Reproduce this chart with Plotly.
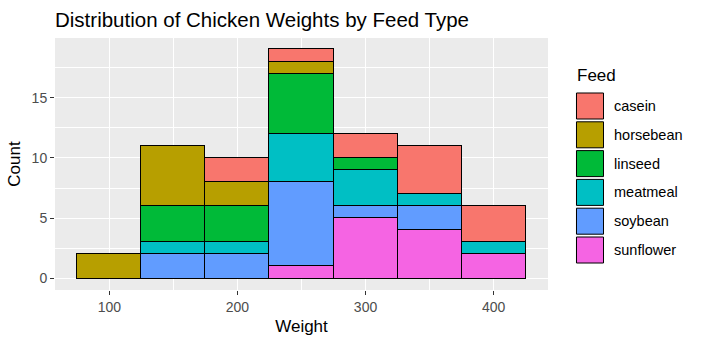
import plotly.graph_objects as go

# Data: chickwts histogram, binwidth 50, counts per bin (bin centers)
bin_centers = [100, 150, 200, 250, 300, 350, 400]
binwidth = 50
feeds = ["casein", "horsebean", "linseed", "meatmeal", "soybean", "sunflower"]
counts = {
    "casein":    [0, 0, 2, 1, 2, 4, 3],
    "horsebean": [2, 5, 2, 1, 0, 0, 0],
    "linseed":   [0, 3, 3, 5, 1, 0, 0],
    "meatmeal":  [0, 1, 1, 4, 3, 1, 1],
    "soybean":   [0, 2, 2, 7, 1, 2, 0],
    "sunflower": [0, 0, 0, 1, 5, 4, 2],
}
colors = ["#F8766D", "#B79F00", "#00BA38", "#00BFC4", "#619CFF", "#F564E3"]
x_ticks = [100, 200, 300, 400]
y_ticks = [0, 5, 10, 15]

FONT = "Arial, Liberation Sans, sans-serif"
W, H = 701, 345
ML, MR, MT, MB = 55, 153, 38, 55

fig = go.Figure()
# stack bottom-up: sunflower first (ggplot puts first level on top)
for feed, col in reversed(list(zip(feeds, colors))):
    vals = [v if v > 0 else None for v in counts[feed]]
    fig.add_trace(go.Bar(
        x=bin_centers, y=vals, width=binwidth, name=feed,
        marker=dict(color=col, line=dict(color="black", width=1.1)),
        showlegend=False,
    ))

totals = [sum(counts[f][i] for f in feeds) for i in range(len(bin_centers))]
xmin = bin_centers[0] - binwidth / 2
xmax = bin_centers[-1] + binwidth / 2
xpad = (xmax - xmin) * 0.05
ymax = max(totals)
ypad = ymax * 0.05

axis_common = dict(
    showgrid=True, gridcolor="white", gridwidth=1.1,
    zeroline=False, showline=False,
    ticks="outside", ticklen=4, tickwidth=1, tickcolor="#333333",
    tickfont=dict(family=FONT, size=14, color="#4D4D4D"),
)
fig.update_layout(
    width=W, height=H,
    margin=dict(l=ML, r=MR, t=MT, b=MB, pad=0),
    barmode="stack", bargap=0,
    paper_bgcolor="white", plot_bgcolor="#EBEBEB",
    font=dict(family=FONT, color="black"),
    title=dict(text="Distribution of Chicken Weights by Feed Type",
               x=ML / W, xanchor="left", y=1 - 20 / H, yanchor="middle",
               font=dict(family=FONT, size=20.5, color="black")),
    xaxis=dict(range=[xmin - xpad, xmax + xpad], tickvals=x_ticks,
               minor=dict(dtick=50, tick0=50, showgrid=True, gridcolor="white", gridwidth=0.5, ticks=""),
               title=dict(text="Weight", font=dict(family=FONT, size=17, color="black"), standoff=6),
               **axis_common),
    yaxis=dict(range=[-ypad, ymax + ypad], tickvals=y_ticks,
               minor=dict(dtick=2.5, tick0=0, showgrid=True, gridcolor="white", gridwidth=0.5, ticks=""),
               title=dict(text="Count", font=dict(family=FONT, size=17, color="black"), standoff=6),
               **axis_common),
    showlegend=False,
)

# Manual ggplot-style legend
pw = W - ML - MR
ph = H - MT - MB
def px2x(px):
    return (px - ML) / pw
def py2y(py):
    return 1 - (py - MT) / ph

fig.add_annotation(text="Feed", xref="paper", yref="paper", x=px2x(575), y=py2y(75),
                   xanchor="left", yanchor="middle", showarrow=False,
                   font=dict(family=FONT, size=17, color="black"))
key_top, key_step, key_size = 92.5, 28.8, 27
for i, (feed, col) in enumerate(zip(feeds, colors)):
    y0 = key_top + i * key_step
    fig.add_shape(type="rect", xref="paper", yref="paper",
                  x0=px2x(575.5), x1=px2x(575.5 + key_size), y0=py2y(y0 + key_size), y1=py2y(y0),
                  fillcolor="#F2F2F2", line=dict(width=0), layer="above")
    fig.add_shape(type="rect", xref="paper", yref="paper",
                  x0=px2x(576.5), x1=px2x(603.5), y0=py2y(y0 + key_size - 0.5), y1=py2y(y0 + 0.5),
                  fillcolor=col, line=dict(color="black", width=1), layer="above")
    fig.add_annotation(text=feed, xref="paper", yref="paper", x=px2x(612), y=py2y(y0 + key_size / 2),
                       xanchor="left", yanchor="middle", showarrow=False,
                       font=dict(family=FONT, size=14.5, color="black"))

fig.write_html("out.html")
